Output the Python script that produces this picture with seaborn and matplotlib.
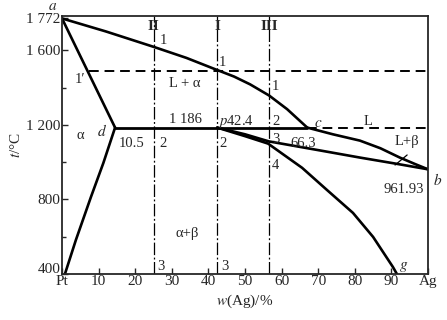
import matplotlib
matplotlib.use("Agg")
import matplotlib.pyplot as plt
import matplotlib.transforms as mtrans
import seaborn as sns
import pandas as pd

# ---- data ----
liq_a_c_x = [0, 12, 25.1, 34, 42.4, 47, 51.4, 56.6, 61.5, 67.0]
liq_a_c_t = [1772, 1702, 1619, 1560, 1495, 1460, 1418, 1358, 1285, 1186]

sol_a_d_x = [0, 14.5]
sol_a_d_t = [1772, 1186]

solv_a_x = [14.5, 11.3, 7.9, 3.8, 0.8]
solv_a_t = [1186, 996, 813, 583, 400]

liq_c_b_x = [67.0, 74, 81.4, 87, 92.3, 96.5, 100]
liq_c_b_t = [1186, 1150, 1116, 1075, 1025, 990, 962]

sol_p_b_x = [42.4, 50, 56.5, 63.1, 72, 81.4, 91, 100]
sol_p_b_t = [1186, 1150, 1112, 1089, 1058, 1025, 993, 962]

solv_b_x = [42.4, 50, 56.3, 65.6, 72.4, 79.5, 85.0, 90.4, 91.5]
solv_b_t = [1186, 1140, 1100, 970, 851, 728, 599, 438, 400]

eut_x = [14.5, 67.0]
eut_t = [1186, 1186]
eut_dash_x = [67.0, 100]
eut_dash_t = [1186, 1186]

iso_x = [7.5, 100]
iso_t = [1490, 1490]

alloy_x = [25.1, 42.4, 56.6]
alloy_names = ["II", "I", "III"]

xticks = [0, 10, 20, 30, 40, 50, 60, 70, 80, 90, 100]
xticklabels = ["Pt", "10", "20", "30", "40", "50", "60", "70", "80", "90", "Ag"]
yticks = [400, 800, 1200, 1600, 1772]
yticklabels = ["400", "800", "1 200", "1 600", "1 772"]

sns.set_style("ticks")
plt.rcParams["font.family"] = ["Liberation Serif", "DejaVu Serif"]
plt.rcParams["mathtext.fontset"] = "stix"

fig = plt.figure(figsize=(4.47, 3.2), dpi=100)
ax = fig.add_axes([62 / 447, 1 - 274 / 320, (428 - 62) / 447, (274 - 16) / 320])

def curve(xs, ts, lw=1.9, ls="-"):
    df = pd.DataFrame({"x": xs, "t": ts})
    sns.lineplot(data=df, x="x", y="t", ax=ax, color="black", lw=lw,
                 linestyle=ls, sort=False, estimator=None)

curve(liq_a_c_x, liq_a_c_t)
curve(sol_a_d_x, sol_a_d_t)
curve(solv_a_x, solv_a_t)
curve(liq_c_b_x, liq_c_b_t)
curve(sol_p_b_x, sol_p_b_t)
curve(solv_b_x, solv_b_t)
curve(eut_x, eut_t, lw=2.0)
curve(eut_dash_x, eut_dash_t, lw=1.4, ls=(0, (5, 3)))
curve(iso_x, iso_t, lw=1.4, ls=(0, (5, 3)))

for xa in alloy_x:
    curve([xa, xa], [400, 1785], lw=0.9, ls=(0, (10, 2, 1.5, 2)))

ax.set_xlim(0, 100)
ax.set_ylim(400, 1785)
ax.set_xticks(xticks)
ax.set_xticklabels(xticklabels)
ax.set_yticks(yticks)
ax.set_yticklabels(yticklabels)
ax.set_yticks([600, 1000, 1400], minor=True)
ax.tick_params(direction="in", length=4, width=1, labelsize=11, pad=1)
ax.tick_params(which="minor", direction="in", length=3, width=1)
for s in ax.spines.values():
    s.set_linewidth(1.3)
ax.set_xlabel("$w$(Ag)/%", fontsize=11, labelpad=3)
ax.set_ylabel("$t$/°C", fontsize=11, labelpad=2)

# lift the "400" label a little so it clears "Pt"
lab400 = ax.yaxis.get_major_ticks()[0].label1
lab400.set_transform(lab400.get_transform() +
                     mtrans.ScaledTranslation(0, 4 / 72, fig.dpi_scale_trans))

fs = 10.5
def T(x, y, s, ha="center", va="center", size=fs, **kw):
    ax.text(x, y, s, ha=ha, va=va, fontsize=size, clip_on=False, **kw)

T(-2.5, 1838, "$a$", size=11)
T(27.6, 1656, "1")
T(4.9, 1442, "1′")
T(33.6, 1425, "L + α")
T(43.9, 1538, "1")
T(58.4, 1404, "1")
T(4.9, 1146, "α")
T(10.9, 1168, "$d$", size=11)
T(19.1, 1103, "10.5")
T(27.6, 1103, "2")
T(33.6, 1227, "1 186")
T(42.6, 1218, "$p$42.4", ha="left")
T(58.6, 1218, "2")
T(43.9, 1103, "2")
T(58.4, 1122, "3")
T(65.8, 1103, "66.3")
T(58.4, 985, "4")
T(70.0, 1206, "$c$", size=11)
T(83.6, 1218, "L")
T(94.3, 1109, "L+β")
ax.plot([91, 94.3], [985, 1039], color="black", lw=0.9)
T(98.9, 851, "961.93", ha="right")
T(102.6, 905, "$b$", size=11)
T(34.2, 620, "α+β")
T(93.4, 438, "$g$", size=11)
T(27.0, 438, "3")
T(44.4, 438, "3")
for xa, nm in zip(alloy_x, alloy_names):
    T(xa, 1726, nm, size=11, weight="bold")

fig.savefig("out.png", dpi=100)
